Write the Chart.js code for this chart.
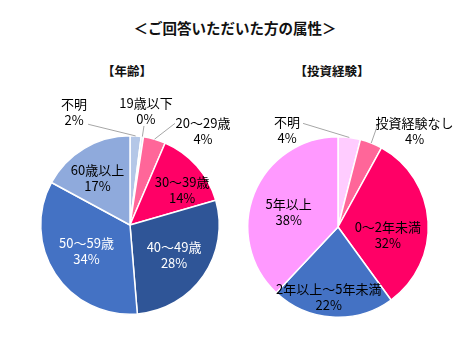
<!DOCTYPE html>
<html>
<head>
<meta charset="utf-8">
<script src="https://cdn.jsdelivr.net/npm/chart.js@4/dist/chart.umd.min.js"></script>
<style>
  body { margin: 0; background: #fff; font-family: "Noto Sans CJK JP", sans-serif; }
  #wrap { position: relative; width: 470px; height: 352px; overflow: hidden; }
  .title { position: absolute; left: 0; width: 470px; top: 18px; text-align: center;
           font-size: 14.5px; font-weight: bold; color: #111; line-height: 20px; }
  .sub { position: absolute; top: 62px; width: 120px; text-align: center;
         font-size: 12.5px; font-weight: bold; color: #111; line-height: 18px; }
  .box { position: absolute; top: 80px; width: 235px; height: 272px; }
</style>
</head>
<body>
<div id="wrap">
  <div class="title">＜ご回答いただいた方の属性＞</div>
  <div class="sub" style="left:67px">【年齢】</div>
  <div class="sub" style="left:272px">【投資経験】</div>
  <div class="box" style="left:0"><canvas id="ageChart"></canvas></div>
  <div class="box" style="left:235px"><canvas id="expChart"></canvas></div>
</div>
<script>
// 年齢 (clockwise from top)
const ageLabels = ["不明", "19歳以下", "20～29歳", "30～39歳", "40～49歳", "50～59歳", "60歳以上"];
const ageValues = [2, 0.4, 4, 14, 28, 34, 17];
const ageColors = ["#b4c7e7", "#dae3f3", "#ff6699", "#ff0066", "#2f5597", "#4472c4", "#8faadc"];

// 投資経験 (clockwise from top)
const expLabels = ["不明", "投資経験なし", "0～2年未満", "2年以上～5年未満", "5年以上"];
const expValues = [4, 4, 32, 22, 38];
const expColors = ["#ffccff", "#ff6699", "#ff0066", "#4472c4", "#ff99ff"];

// label placement: f = distance / radius, da = angle shift (deg) from slice middle,
// out = leader line end relative to the label centre
const ageLabelStyle = [
  { f: 1.41, da: -30, color: "#000", out: [14, 12] },
  { f: 1.29, da: 0, color: "#000", out: [-2, 15] },
  { f: 1.33, da: 22, color: "#000", out: [-28, -8] },
  { f: 0.70, da: 8, color: "#000" },
  { f: 0.60, da: 0, color: "#fff" },
  { f: 0.57, da: 2, color: "#fff" },
  { f: 0.64, da: -4, color: "#000" }
];
const expLabelStyle = [
  { f: 1.21, da: -35, color: "#000", out: [16, -7] },
  { f: 1.36, da: 17, color: "#000", out: [-37, -6] },
  { f: 0.56, da: 13, color: "#000" },
  { f: 0.78, da: 4, color: "#000" },
  { f: 0.57, da: -5, color: "#000" }
];

const sliceLabels = {
  id: "sliceLabels",
  afterDatasetsDraw(chart, args, opts) {
    const ctx = chart.ctx;
    const meta = chart.getDatasetMeta(0);
    const values = chart.data.datasets[0].data;
    ctx.save();
    ctx.font = '13px "Noto Sans CJK JP", sans-serif';
    ctx.textAlign = "center";
    ctx.textBaseline = "middle";
    meta.data.forEach((arc, i) => {
      const p = arc.getProps(["x", "y", "startAngle", "endAngle", "outerRadius"], true);
      const st = opts.style[i];
      const mid = (p.startAngle + p.endAngle) / 2;
      const a = mid + st.da * Math.PI / 180;
      const lx = p.x + Math.cos(a) * p.outerRadius * st.f;
      const ly = p.y + Math.sin(a) * p.outerRadius * st.f;
      if (st.out) {
        ctx.strokeStyle = "#a6a6a6";
        ctx.lineWidth = 1;
        ctx.beginPath();
        ctx.moveTo(p.x + Math.cos(mid) * p.outerRadius, p.y + Math.sin(mid) * p.outerRadius);
        ctx.lineTo(lx + st.out[0], ly + st.out[1]);
        ctx.stroke();
      }
      ctx.fillStyle = st.color;
      ctx.fillText(chart.data.labels[i], lx, ly - 8);
      ctx.fillText(Math.round(values[i]) + "%", lx, ly + 8);
    });
    ctx.restore();
  }
};

function makePie(id, labels, values, colors, style, padding) {
  return new Chart(document.getElementById(id), {
    type: "pie",
    data: {
      labels: labels,
      datasets: [{
        data: values,
        backgroundColor: colors,
        borderColor: "#fff",
        borderWidth: 1.5
      }]
    },
    options: {
      responsive: true,
      maintainAspectRatio: false,
      animation: false,
      layout: { padding: padding },
      plugins: {
        legend: { display: false },
        tooltip: { enabled: false },
        sliceLabels: { style: style }
      }
    },
    plugins: [sliceLabels]
  });
}

makePie("ageChart", ageLabels, ageValues, ageColors, ageLabelStyle,
  { left: 40, right: 15, top: 55, bottom: 37 });
makePie("expChart", expLabels, expValues, expColors, expLabelStyle,
  { left: 12, right: 41, top: 56, bottom: 34 });
</script>
</body>
</html>
